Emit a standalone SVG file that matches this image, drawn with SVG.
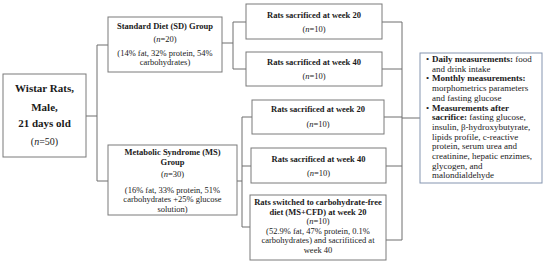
<svg xmlns="http://www.w3.org/2000/svg" width="550" height="265" viewBox="0 0 550 265">
<style>
.box{fill:#fff;stroke:#7a7a7a;stroke-width:1}
.mbox{fill:#fff;stroke:#8595b0;stroke-width:1}
.conn{fill:none;stroke:#6e6e6e;stroke-width:1}
text{font-family:"Liberation Serif","Times New Roman",serif;fill:#1a1a1a;text-anchor:middle}
.b{font-weight:bold}
.s{font-size:8.5px}
.w{font-size:11px;font-weight:bold}
.m{font-size:9px;text-anchor:start}
</style>
<rect width="550" height="265" fill="#fff"/>
<g id="connectors">
<path class="conn" d="M86,116H97M97,45V181M97,45H108M97,181H108"/>
<path class="conn" d="M222,43H233M233,22V69M233,22H246M233,69H246"/>
<path class="conn" d="M237,181H242M242,117V227M242,117H252M242,166H251M242,227H250"/>
<path class="conn" d="M382,22H402M382,69H402M384,117H402M386,166H402M386,240H402M402,22V240M402,118H420"/>
</g>
<g id="wistar">
<rect class="box" x="3" y="74" width="83" height="83"/>
<text class="w" x="44.5" y="92">Wistar Rats,</text>
<text class="w" x="44.5" y="111">Male,</text>
<text class="w" x="44.5" y="127">21 days old</text>
<text x="44.5" y="145" style="font-size:10px">(<tspan font-style="italic">n</tspan>=50)</text>
</g>
<g id="sd">
<rect class="box" x="108" y="17" width="114" height="55"/>
<text class="s b" x="165" y="29">Standard Diet (SD) Group</text>
<text class="s" x="165" y="42">(<tspan font-style="italic">n</tspan>=20)</text>
<text class="s" x="165" y="56">(14% fat, 32% protein, 54%</text>
<text class="s" x="165" y="65">carbohydrates)</text>
</g>
<g id="ms">
<rect class="box" x="108" y="145" width="129" height="70"/>
<text class="s b" x="172.5" y="155">Metabolic Syndrome (MS)</text>
<text class="s b" x="172.5" y="165">Group</text>
<text class="s" x="172.5" y="177">(<tspan font-style="italic">n</tspan>=30)</text>
<text class="s" x="172.5" y="193">(16% fat, 33% protein, 51%</text>
<text class="s" x="172.5" y="202">carbohydrates +25% glucose</text>
<text class="s" x="172.5" y="212">solution)</text>
</g>
<g id="sd20">
<rect class="box" x="246" y="4" width="136" height="35"/>
<text class="s b" x="314" y="18">Rats sacrificed at week 20</text>
<text class="s" x="314" y="32">(<tspan font-style="italic">n</tspan>=10)</text>
</g>
<g id="sd40">
<rect class="box" x="246" y="52" width="136" height="34"/>
<text class="s b" x="314" y="65">Rats sacrificed at week 40</text>
<text class="s" x="314" y="79">(<tspan font-style="italic">n</tspan>=10)</text>
</g>
<g id="ms20">
<rect class="box" x="252" y="100" width="132" height="34"/>
<text class="s b" x="318" y="112">Rats sacrificed at week 20</text>
<text class="s" x="318" y="127">(<tspan font-style="italic">n</tspan>=10)</text>
</g>
<g id="ms40">
<rect class="box" x="251" y="148" width="135" height="35"/>
<text class="s b" x="318.5" y="162">Rats sacrificed at week 40</text>
<text class="s" x="318.5" y="176">(<tspan font-style="italic">n</tspan>=10)</text>
</g>
<g id="mscfd">
<rect class="box" x="250" y="195" width="136" height="65"/>
<text class="s b" x="318" y="205">Rats switched to carbohydrate-free</text>
<text class="s b" x="318" y="214.5">diet (MS+CFD) at week 20</text>
<text class="s" x="318" y="224">(<tspan font-style="italic">n</tspan>=10)</text>
<text class="s" x="318" y="233.5">(52.9% fat, 47% protein, 0.1%</text>
<text class="s" x="318" y="243">carbohydrates) and sacrifiticed  at</text>
<text class="s" x="318" y="252.5">week 40</text>
</g>
<g id="measurements">
<rect class="mbox" x="420" y="53" width="122" height="130"/>
<text class="m" x="426" y="62">•</text>
<text class="m" x="432" y="62"><tspan font-weight="bold">Daily measurements:</tspan> food</text>
<text class="m" x="432" y="71.7">and drink intake</text>
<text class="m" x="426" y="81.4">•</text>
<text class="m" x="432" y="81.4" font-weight="bold">Monthly measurements:</text>
<text class="m" x="432" y="91.1">morphometrics parameters</text>
<text class="m" x="432" y="100.8">and fasting glucose</text>
<text class="m" x="426" y="110.5">•</text>
<text class="m" x="432" y="110.5" font-weight="bold">Measurements after</text>
<text class="m" x="432" y="120.2"><tspan font-weight="bold">sacrifice:</tspan> fasting glucose,</text>
<text class="m" x="432" y="129.9">insulin, β-hydroxybutyrate,</text>
<text class="m" x="432" y="139.6">lipids profile, c-reactive</text>
<text class="m" x="432" y="149.3">protein, serum urea and</text>
<text class="m" x="432" y="159">creatinine, hepatic enzimes,</text>
<text class="m" x="432" y="168.7">glycogen, and</text>
<text class="m" x="432" y="178.4">malondialdehyde</text>
</g>
</svg>
